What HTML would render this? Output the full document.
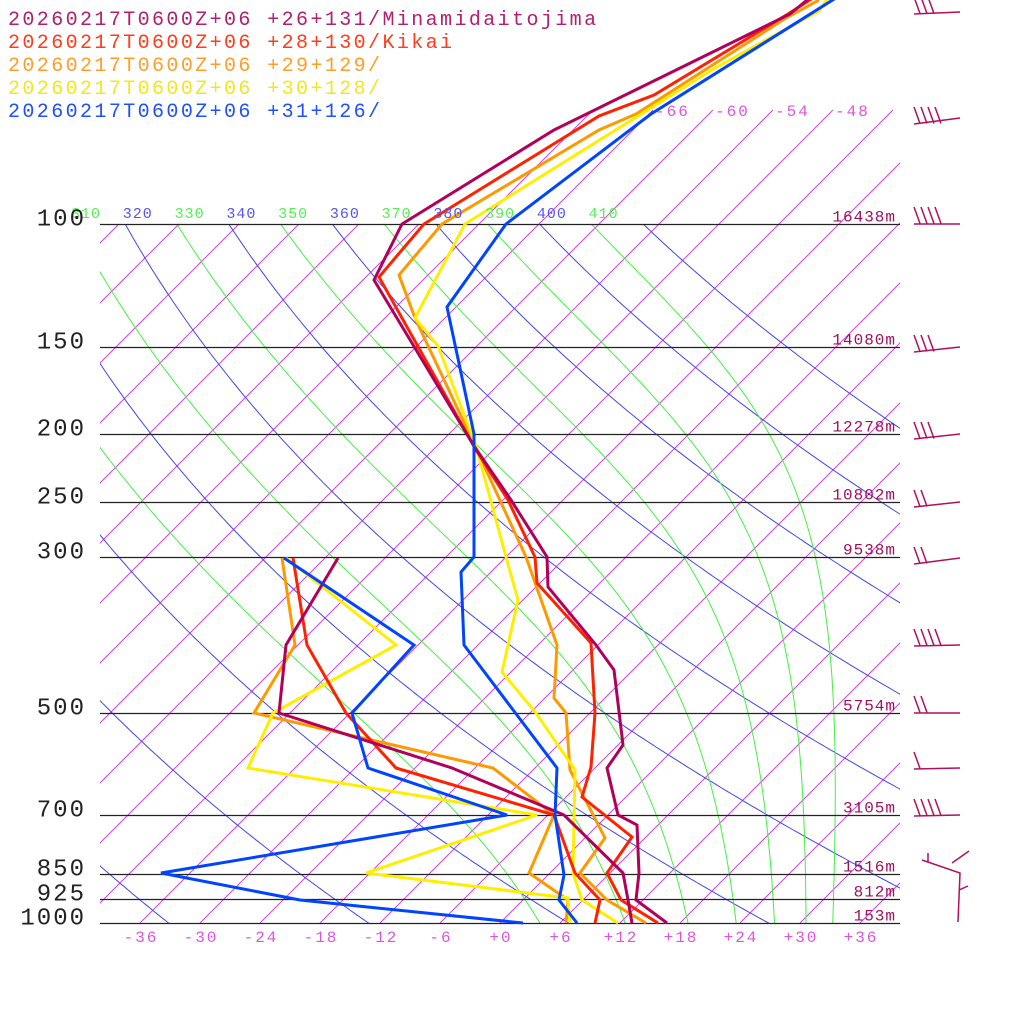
<!DOCTYPE html>
<html><head><meta charset="utf-8">
<style>
html,body{margin:0;padding:0;background:#fff;}
svg{display:block;}
text{font-family:"Liberation Mono",monospace;}
</style></head>
<body>
<svg id="s" width="1024" height="1024" viewBox="0 0 1024 1024" xmlns="http://www.w3.org/2000/svg">
<defs>
<clipPath id="cA"><rect x="100" y="224" width="800" height="699"/></clipPath>
<clipPath id="cI"><rect x="100" y="105" width="800" height="818"/></clipPath>
</defs>
<g id="bg"></g>
<g id="data" fill="none" stroke-width="3" stroke-linejoin="miter"></g>
<g id="txt"></g>
</svg>
<script>
(function(){
var NS="http://www.w3.org/2000/svg";
var bg=document.getElementById('bg'),data=document.getElementById('data'),txt=document.getElementById('txt');
function el(tag,attrs,parent,content){var e=document.createElementNS(NS,tag);for(var k in attrs)e.setAttribute(k,attrs[k]);if(content!==undefined)e.textContent=content;parent.appendChild(e);return e;}
function Y(p){return 923-303.6*Math.log(1000/p);}
function X(T,y){return 500+10*T+(923-y);}
var gi=el('g',{'clip-path':'url(#cI)',stroke:'#cc44dd','stroke-width':1},bg);
for(var T=-150;T<=42;T+=6){
  var ytop=(T>=-72)?110:224;
  el('line',{x1:X(T,923),y1:923,x2:X(T,ytop),y2:ytop},gi);
}
var ga=el('g',{'clip-path':'url(#cA)',fill:'none','stroke-width':1},bg);
for(var th=200;th<=420;th+=20){
  var d='';for(var p=90;p<=1010;p+=5){var Tk=th*Math.pow(p/1000,0.2857);var y=Y(p);d+=(d?'L':'M')+X(Tk-273.15,y).toFixed(1)+','+y.toFixed(1);}
  el('path',{d:d,stroke:'#4444ee'},ga);
}
function es(Tc){return 6.112*Math.exp(17.67*Tc/(Tc+243.5));}
function dTdp(T,p){var Tc=T-273.15;var e=es(Tc);var rs=0.622*e/(p-e);var Rd=287,Lv=2.5e6,cp=1004;
 return (1/p)*(Rd*T+Lv*rs)/(cp+Lv*Lv*rs*0.622/(Rd*T*T));}
for(var th=290;th<=410;th+=20){
  var p=100,T=th*Math.pow(0.1,0.2857);var d='M'+X(T-273.15,Y(p)).toFixed(1)+','+Y(p).toFixed(1);
  while(p<1010){var dp=2;T+=dTdp(T,p)*dp;p+=dp;var y=Y(p);d+='L'+X(T-273.15,y).toFixed(1)+','+y.toFixed(1);}
  el('path',{d:d,stroke:'#44ee44'},ga);
}
for(var th=310;th<=410;th+=10){
  var x=X(th*0.5176-273.15,224);
  el('text',{x:x+14,y:218,'font-size':15,fill:(th%20==0)?'#5555ee':'#55ee55','text-anchor':'middle','letter-spacing':'1px'},txt,String(th));
}
var lv=[[100,'16438m'],[150,'14080m'],[200,'12278m'],[250,'10802m'],[300,'9538m'],[500,'5754m'],[700,'3105m'],[850,'1516m'],[925,'812m'],[1000,'153m']];
lv.forEach(function(a){var y=Math.round(Y(a[0]))+0.5;el('line',{x1:100,y1:y,x2:900,y2:y,stroke:'#222','stroke-width':1.2},bg);
 el('text',{x:896,y:y-3,'font-size':16,fill:'#a0105a','text-anchor':'end','letter-spacing':'1px'},txt,a[1]);
 el('text',{x:86,y:y+1,'font-size':24,fill:'#222','text-anchor':'end','letter-spacing':'2px'},txt,String(a[0]));});
[-66,-60,-54,-48].forEach(function(t){el('text',{x:X(t,110)+2,y:116,'font-size':16,fill:'#dd55dd','letter-spacing':'2px'},txt,String(t));});
for(var t=-36;t<=36;t+=6){el('text',{x:500+10*t+1,y:942,'font-size':16,fill:'#dd55dd','text-anchor':'middle','letter-spacing':'2px'},txt,(t>=0?'+':'')+t);}
var S=[
['#ff9900',[[819,0],[786,18],[636,114],[599,130],[442,224],[399,275],[415,318],[476,448],[526,557],[557,645],[554,698],[566,713],[570,770],[605,838],[580,873],[607,900],[646,923]],
 [[282,558],[295,645],[254,713],[493,768],[554,815],[529,873],[568,900],[566,923]]],
['#ffee00',[[830,-5],[819,11],[715,68],[465,224],[415,318],[438,346],[476,446],[506,557],[518,600],[502,672],[536,713],[575,770],[573,873],[582,900],[618,923]],
 [[286,558],[396,645],[273,713],[248,768],[537,815],[366,873],[568,898],[570,923]]],
['#ff2200',[[816,-4],[788,14],[654,95],[599,116],[424,224],[379,277],[476,450],[508,500],[535,557],[537,583],[591,643],[595,713],[591,767],[582,797],[632,837],[607,873],[621,900],[658,923]],
 [[293,558],[307,645],[346,713],[396,768],[554,815],[575,873],[600,900],[595,923]]],
['#b0005a',[[812,-4],[790,14],[554,130],[402,224],[374,280],[474,446],[511,500],[547,557],[548,587],[596,645],[614,670],[623,745],[607,768],[618,815],[637,825],[639,873],[636,900],[667,923]],
 [[338,558],[286,645],[279,713],[452,768],[564,815],[623,873],[628,900],[632,923]]],
['#0044ff',[[839,-4],[651,114],[506,224],[447,307],[474,434],[474,557],[461,572],[464,645],[557,768],[555,815],[564,875],[559,900],[577,923]],
 [[284,558],[414,645],[352,713],[368,768],[507,815],[161,873],[300,900],[523,923]]]
];
S.forEach(function(s){[s[1],s[2]].forEach(function(pts){el('polyline',{points:pts.map(function(q){return q.join(',');}).join(' '),stroke:s[0]},data);});});
var L=[['#b0206e','20260217T0600Z+06 +26+131/Minamidaitojima'],['#ff3c1e','20260217T0600Z+06 +28+130/Kikai'],['#ff9e28','20260217T0600Z+06 +29+129/'],['#f2e620','20260217T0600Z+06 +30+128/'],['#2050ff','20260217T0600Z+06 +31+126/']];
L.forEach(function(a,i){el('text',{x:8,y:25+i*23,'font-size':20,fill:a[0],'letter-spacing':'2.4px'},txt,a[1]);});
var gb=el('g',{stroke:'#b0105e','stroke-width':1.5,fill:'none'},bg);
var W=[[12,3,-2],[118,4,-6],[224,4,0],[347,3,-5],[434,3,-5],[502,2,-5],[558,2,-6],[645,4,-1],[713,2,0],[768,1,-1],[815,4,-1]];
W.forEach(function(w){var y=w[0],n=w[1],dy=w[2];var x0=914;var y0=y-dy;
 el('line',{x1:x0,y1:y0,x2:960,y2:y},gb);
 for(var i=0;i<n;i++){var bx=x0+i*7;el('line',{x1:bx+6,y1:y0-0.5,x2:bx,y2:y0-17},gb);}
});
el('polyline',{points:'922,860 960,873 958,922',stroke:'#b0105e','stroke-width':1.5,fill:'none'},bg);
el('line',{x1:928,y1:853,x2:928,y2:862,stroke:'#b0105e','stroke-width':1.5},bg);
el('line',{x1:952,y1:863,x2:969,y2:851,stroke:'#b0105e','stroke-width':1.5},bg);
el('line',{x1:959,y1:890,x2:968,y2:886,stroke:'#b0105e','stroke-width':1.5},bg);
})();
</script>
</body></html>
